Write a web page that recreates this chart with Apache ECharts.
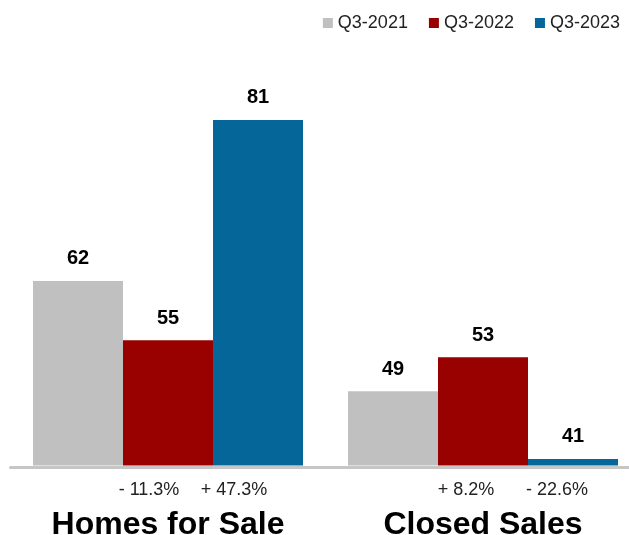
<!DOCTYPE html>
<html>
<head>
<meta charset="utf-8">
<script src="https://cdn.jsdelivr.net/npm/echarts@6/dist/echarts.min.js"></script>
<style>
  html, body { margin: 0; padding: 0; background: #ffffff; }
  #chart { width: 629px; height: 535px; }
</style>
</head>
<body>
<div id="chart"></div>
<script>
// ---- Data ----
var categories = ['Homes for Sale', 'Closed Sales'];
var seriesNames = ['Q3-2021', 'Q3-2022', 'Q3-2023'];
var q3_2021 = [62, 49];
var q3_2022 = [55, 53];
var q3_2023 = [81, 41];
var changeVs2021 = ['- 11.3%', '+ 8.2%'];   // Q3-2022 change
var changeVs2022 = ['+ 47.3%', '- 22.6%'];  // Q3-2023 change

var colors = ['#c0c0c0', '#990000', '#05669a'];
var FONT = '"Liberation Sans", Arial, Helvetica, sans-serif';

var chart = echarts.init(document.getElementById('chart'), null, { renderer: 'canvas' });

function valueLabel() {
  return {
    show: true,
    position: 'top',
    distance: 12,
    fontFamily: FONT,
    fontSize: 20,
    fontWeight: 'bold',
    color: '#000000'
  };
}

var option = {
  animation: false,
  backgroundColor: '#ffffff',
  color: colors,
  legend: {
    data: seriesNames,
    right: 4,
    top: 9,
    icon: 'rect',
    itemWidth: 10,
    itemHeight: 10,
    itemGap: 21,
    textStyle: { fontFamily: FONT, fontSize: 18, color: '#222222' }
  },
  grid: { left: 10.5, width: 630, top: 86, bottom: 69.5, containLabel: false, outerBoundsMode: 'none' },
  xAxis: [
    {
      type: 'category',
      data: categories,
      position: 'bottom',
      axisLine: { show: false },
      axisTick: { show: false },
      axisLabel: {
        margin: 11,
        interval: 0,
        fontFamily: FONT,
        formatter: function (val, idx) {
          return '{s' + idx + '| }{a' + idx + '|' + changeVs2021[idx] + '}{b' + idx + '|' + changeVs2022[idx] + '}\n{c|' + val + '}';
        },
        rich: {
          s0: { width: 47, fontSize: 18, lineHeight: 28 },
          a0: { width: 85, align: 'center', fontSize: 18, lineHeight: 28, color: '#222222', fontFamily: FONT },
          b0: { width: 85, align: 'center', fontSize: 18, lineHeight: 28, color: '#222222', fontFamily: FONT },
          s1: { width: 57, fontSize: 18, lineHeight: 28 },
          a1: { width: 91, align: 'center', fontSize: 18, lineHeight: 28, color: '#222222', fontFamily: FONT },
          b1: { width: 91, align: 'center', fontSize: 18, lineHeight: 28, color: '#222222', fontFamily: FONT },
          c: { fontSize: 32, fontWeight: 'bold', lineHeight: 42, color: '#000000', fontFamily: FONT }
        }
      }
    },
    {
      type: 'category',
      data: categories,
      position: 'bottom',
      offset: 2,
      axisLine: { show: true, lineStyle: { color: '#c6c6c6', width: 3 } },
      axisTick: { show: false },
      axisLabel: { show: false },
      splitLine: { show: false }
    }
  ],
  yAxis: {
    type: 'value',
    min: 40.23,
    max: 85,
    show: false,
    splitLine: { show: false }
  },
  series: [
    { name: seriesNames[0], type: 'bar', data: q3_2021, barGap: 0, barCategoryGap: '14.2857%', label: valueLabel() },
    { name: seriesNames[1], type: 'bar', data: q3_2022, barGap: 0, barCategoryGap: '14.2857%', label: valueLabel() },
    { name: seriesNames[2], type: 'bar', data: q3_2023, barGap: 0, barCategoryGap: '14.2857%', label: valueLabel() }
  ]
};

chart.setOption(option);
</script>
</body>
</html>
